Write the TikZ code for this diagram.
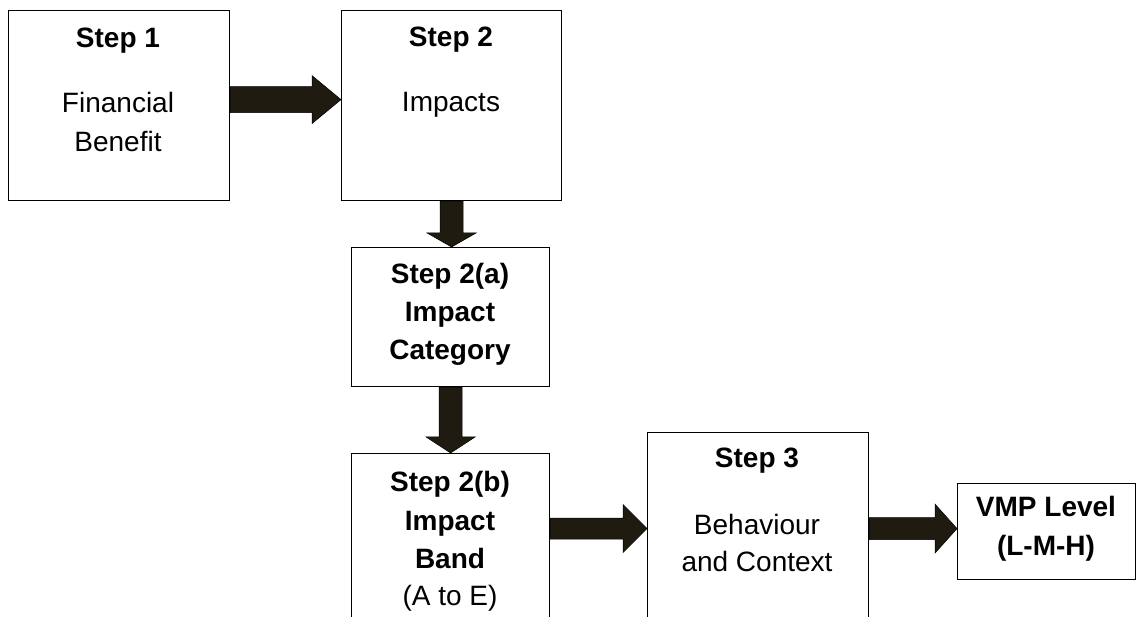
\documentclass[tikz,border=0pt]{standalone}
\usepackage{fontspec}
\setmainfont{Liberation Sans}
\usetikzlibrary{calc}
\definecolor{arrowcol}{RGB}{31,27,17}
\newcommand{\hfat}[5]{% start, tip, half shaft, half head, head length
  \path[fat] ($(#1)+(0,-#3)$) -- ($(#2)+(-#5,-#3)$) -- ($(#2)+(-#5,-#4)$) -- (#2)
    -- ($(#2)+(-#5,#4)$) -- ($(#2)+(-#5,#3)$) -- ($(#1)+(0,#3)$) -- cycle;}
\newcommand{\vfat}[5]{%
  \path[fat] ($(#1)+(-#3,0)$) -- ($(#2)+(-#3,-#5)$) -- ($(#2)+(-#4,-#5)$) -- (#2)
    -- ($(#2)+(#4,-#5)$) -- ($(#2)+(#3,-#5)$) -- ($(#1)+(#3,0)$) -- cycle;}
\begin{document}
\begin{tikzpicture}[x=1pt,y=-1pt,
  box/.style={draw=black, line width=1.2pt, fill=white, inner sep=0pt, anchor=north west},
  lbl/.style={anchor=base, inner sep=0pt, font=\fontsize{28}{34}\selectfont},
  blbl/.style={anchor=base, inner sep=0pt, font=\fontsize{28}{34}\selectfont\bfseries},
  fat/.style={fill=arrowcol, draw=black, line width=0.5pt, line join=miter}]
\useasboundingbox (0,0) rectangle (1136,617);
\clip (0,0) rectangle (1136,617);
% boxes
\node[box, minimum width=221pt, minimum height=190pt] (s1) at (8,10) {};
\node[box, minimum width=220pt, minimum height=190pt] (s2) at (341,10) {};
\node[box, minimum width=198pt, minimum height=139pt] (s2a) at (351,247) {};
\node[box, minimum width=198pt, minimum height=200pt] (s2b) at (351,453) {};
\node[box, minimum width=221pt, minimum height=192pt] (s3) at (647,432) {};
\node[box, minimum width=178pt, minimum height=96pt] (vmp) at (957,483) {};
% texts
\node[blbl] (t1a) at (118,48) {Step 1};
\node[lbl] (t1b) at (118,113) {Financial};
\node[lbl] (t1c) at (118,152) {Benefit};
\node[blbl] (t2a) at (451,47) {Step 2};
\node[lbl] (t2b) at (451,112) {Impacts};
\node[blbl] (t3a) at (450,284) {Step 2(a)};
\node[blbl] (t3b) at (450,322) {Impact};
\node[blbl] (t3c) at (450,360) {Category};
\node[blbl] (t4a) at (450,492) {Step 2(b)};
\node[blbl] (t4b) at (450,530) {Impact};
\node[blbl] (t4c) at (450,568) {Band};
\node[lbl] (t4d) at (450,605) {(A to E)};
\node[blbl] (t5a) at (757,468) {Step 3};
\node[lbl] (t5b) at (757,535) {Behaviour};
\node[lbl] (t5c) at (757,572) {and Context};
\node[blbl] (t6a) at (1046,517) {VMP Level};
\node[blbl] (t6b) at (1046,555) {(L-M-H)};
% connectors
\coordinate (a1s) at ($(s1.east)+(0,-6)$);
\coordinate (a1e) at (s2.west |- a1s);
\hfat{a1s}{a1e}{13}{24}{29}
\coordinate (a2s) at (s2.south);
\coordinate (a2e) at (s2.south |- s2a.north);
\vfat{a2s}{a2e}{11.5}{24.5}{14}
\coordinate (a3s) at (s2a.south);
\coordinate (a3e) at (s2a.south |- s2b.north);
\vfat{a3s}{a3e}{11.5}{24.5}{16}
\coordinate (a4s) at (s2b.east |- s3.west);
\coordinate (a4e) at (s3.west);
\hfat{a4s}{a4e}{10.5}{24}{24}
\coordinate (a5s) at (s3.east);
\coordinate (a5e) at (s3.east -| vmp.west);
\hfat{a5s}{a5e}{11}{24.5}{22}
\end{tikzpicture}
\end{document}
